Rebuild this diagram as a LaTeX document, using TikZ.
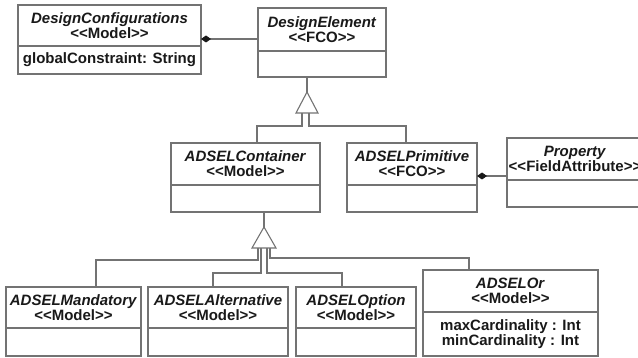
\documentclass[tikz,border=0pt]{standalone}
\usepackage{fontspec}
\newfontfamily\umlfont{Liberation Sans}
\usetikzlibrary{arrows.meta}

% A UML class: name, left, top, right, divider, bottom, title, stereotype, attributes
\newcommand\umlclass[9]{%
  \node[classbox, minimum width={#4-#2}, minimum height={#6-#3}] (#1) at (#2,#3) {};
  \draw[umlline] (#2,#5) -- (#4,#5);
  \node[txt] (#1-title) at ({(#2+#4)/2},{(#3+#5)/2}) {\textit{#7}\\<\kern0pt<#8>\kern0pt>};
  \node[txt] (#1-attr) at ({(#2+#4)/2},{(#5+#6)/2}) {#9};
}

\begin{document}
\begin{tikzpicture}[x=1pt, y=-1pt,
  umlline/.style={draw=black!55, line width=1.1pt},
  classbox/.style={umlline, fill=white, anchor=north west, inner sep=0pt, outer sep=0pt},
  txt/.style={font=\umlfont\fontsize{15}{15}\selectfont\bfseries, align=center,
              inner sep=0pt, text=black!90},
  composition/.style={umlline, -{Diamond[length=10pt, width=7pt, color=black!90]}},
  gentri/.style={umlline, fill=white},
]
\useasboundingbox (0,0) rectangle (638,358);

% classes
\umlclass{dc}{18}{5}{201}{46}{74}{DesignConfigurations}{Model}{globalConstraint: String}
\umlclass{de}{258}{8}{386}{51}{77}{DesignElement}{FCO}{}
\umlclass{cont}{171}{143}{320}{185}{212}{ADSELContainer}{Model}{}
\umlclass{prim}{347}{143}{477}{185}{212}{ADSELPrimitive}{FCO}{}
\umlclass{prop}{507}{138}{643}{180}{207}{Property}{FieldAttribute}{}
\umlclass{mand}{6}{287}{141}{328}{356}{ADSELMandatory}{Model}{}
\umlclass{alt}{148}{287}{288}{328}{356}{ADSELAlternative}{Model}{}
\umlclass{opt}{296}{287}{416}{328}{356}{ADSELOption}{Model}{}
\umlclass{or}{423}{270}{598}{312}{356}{ADSELOr}{Model}{maxCardinality : Int\\minCardinality : Int}

% compositions
\draw[composition] (de.west |- 0,39) -- (dc.east |- 0,39);
\draw[composition] (prop.west |- 0,176) -- (prim.east |- 0,176);

% generalization: DesignElement
\coordinate (g1) at (307,92);
\draw[umlline] (de.south -| g1) -- (g1);
\draw[umlline] (302,113) |- (257,126) -- (257,126 |- cont.north);
\draw[umlline] (309,113) |- (406,126) -- (406,126 |- prim.north);
\draw[gentri] (g1) -- ++(-11,21) -- ++(22,0) -- cycle;

% generalization: ADSELContainer
\coordinate (g2) at (264,227);
\draw[umlline] (cont.south -| g2) -- (g2);
\draw[umlline] (258,248) |- (96,260) -- (96,260 |- mand.north);
\draw[umlline] (261,248) |- (213,273) -- (213,273 |- alt.north);
\draw[umlline] (267,248) |- (342,273) -- (342,273 |- opt.north);
\draw[umlline] (270,248) |- (469,258) -- (469,258 |- or.north);
\draw[gentri] (g2) -- ++(-12,21) -- ++(24,0) -- cycle;
\end{tikzpicture}
\end{document}
